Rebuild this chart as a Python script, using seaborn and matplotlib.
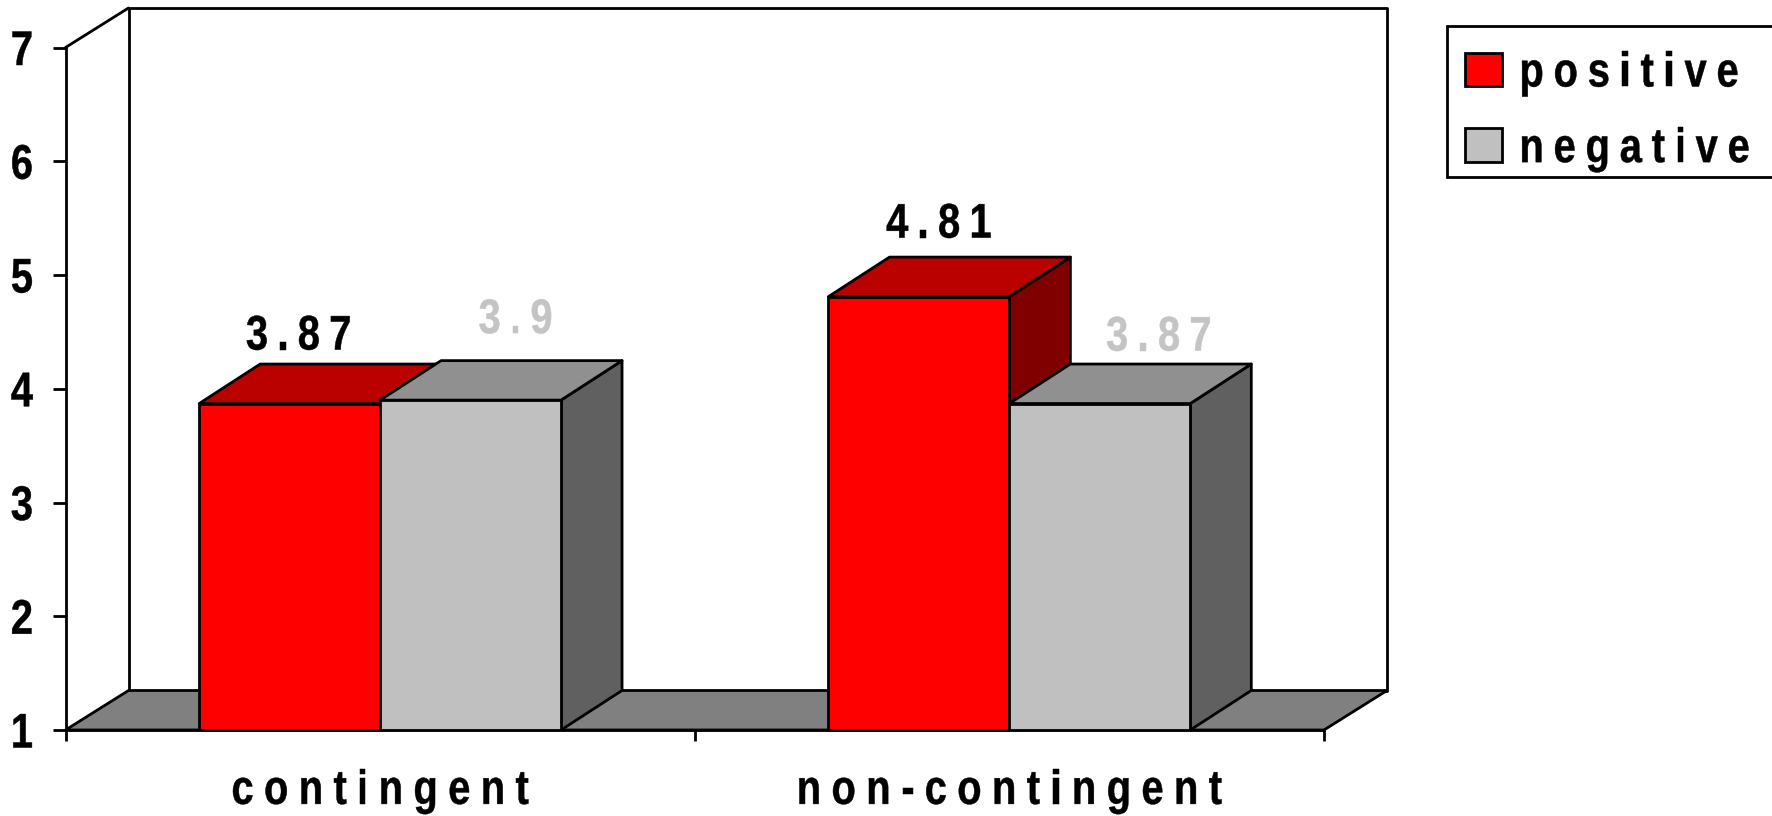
import matplotlib
matplotlib.use("Agg")
import matplotlib.colors as mcolors
import matplotlib.pyplot as plt
import matplotlib.transforms as mtransforms
from matplotlib import font_manager
from matplotlib.ft2font import LoadFlags
from matplotlib.patches import Polygon
from matplotlib.path import Path
from matplotlib.text import Text
from matplotlib.textpath import TextPath
from matplotlib.ticker import FixedLocator
import pandas as pd
import seaborn as sns

# Mean scores per condition and feedback valence
conditions = ["contingent", "non-contingent"]
valences = ["positive", "negative"]
positive_scores = [3.87, 4.81]
negative_scores = [3.9, 3.87]
y_ticks = [1, 2, 3, 4, 5, 6, 7]

FIG_W, FIG_H = 1772, 816
AX_LEFT, AX_RIGHT, AX_TOP, AX_BOTTOM = 65.5, 1324.0, 47.5, 730.0
WALL_DX, WALL_DY = 63.0, 39.5   # depth of the floor and back wall, in pixels
BAR_DX, BAR_DY = 61.0, 39.5     # depth of the extruded bars, in pixels
LW = 2.0
FONT_SIZE = 35
CONDENSE = 0.82                 # horizontal glyph scale, for a narrow bold face
STROKE = 0.35

FRONT = {"positive": "#FF0000", "negative": "#C0C0C0"}
TOP = {"positive": "#BB0000", "negative": "#909090"}
SIDE = {"positive": "#800000", "negative": "#606060"}
FLOOR = "#808080"
LABEL_COLORS = ["black", "#C4C4C4"]

# Pixel nudges of the value labels relative to each bar's top centre
LABEL_NUDGES = [[(9, 54), (45, 67)], [(20, 59), (59, 53)]]


class TrackedText(Text):
    """Condensed text drawn glyph by glyph with extra letter spacing, in pixels."""

    tracking = 9.3

    def _advances(self):
        fp = self.get_fontproperties()
        font = font_manager.get_font(font_manager.findfont(fp))
        px = fp.get_size_in_points() * self.get_figure(root=True).dpi / 72
        font.set_size(px, 72)
        out = []
        for ch in self.get_text():
            glyph = font.load_char(ord(ch), flags=LoadFlags.NO_HINTING)
            out.append(glyph.linearHoriAdvance / 65536 * CONDENSE)
        return out, px

    def _total_width(self):
        adv, _ = self._advances()
        return sum(adv) + self.tracking * max(len(adv) - 1, 0)

    def _shift(self):
        return {"left": 0.0, "center": 0.5, "right": 1.0}[self.get_ha()]

    def _get_layout(self, renderer):
        bbox, info, descent = super()._get_layout(renderer)
        width = self._total_width()
        wider = mtransforms.Bbox.from_bounds(
            bbox.x0 + self._shift() * (bbox.width - width), bbox.y0, width, bbox.height)
        return wider, info, descent

    def draw(self, renderer):
        if renderer is not None:
            self._renderer = renderer
        if not self.get_visible() or not self.get_text():
            return
        _, info, _ = super()._get_layout(renderer)
        _, (natural, _), x_off, y_off = info[0]
        posx, posy = self.get_transform().transform(self.get_unitless_position())
        x = posx + x_off + self._shift() * (natural - self._total_width())
        y = posy + y_off
        gc = renderer.new_gc()
        gc.set_foreground(self.get_color())
        gc.set_linewidth(STROKE)
        color = mcolors.to_rgb(self.get_color())
        adv, px = self._advances()
        fp = self.get_fontproperties()
        for ch, step in zip(self.get_text(), adv):
            path = TextPath((0, 0), ch, size=px, prop=fp)
            place = mtransforms.Affine2D().scale(CONDENSE, 1).translate(x, y)
            renderer.draw_path(gc, path, place, color)
            x += step + self.tracking
        gc.restore()


def legend_frame(pad_top, trim_bottom, pad_right):
    """Box style that reshapes the legend frame around its contents."""
    def transmute(x0, y0, width, height, mutation_size):
        y_low, y_high = y0 + trim_bottom, y0 + height + pad_top
        x_high = x0 + width + pad_right
        return Path([(x0, y_low), (x_high, y_low), (x_high, y_high),
                     (x0, y_high), (x0, y_low)], closed=True)
    return transmute


sns.set_theme(style="white")
plt.rcParams["font.family"] = ["Liberation Sans", "DejaVu Sans"]
plt.rcParams["font.weight"] = "bold"
plt.rcParams["font.size"] = FONT_SIZE
plt.rcParams["text.color"] = "black"
plt.rcParams["axes.linewidth"] = LW
plt.rcParams["axes.edgecolor"] = "black"

df = pd.DataFrame({
    "condition": conditions * 2,
    "valence": [valences[0]] * len(conditions) + [valences[1]] * len(conditions),
    "score": positive_scores + negative_scores,
})

fig = plt.figure(figsize=(FIG_W / 100, FIG_H / 100), dpi=100)
ax = fig.add_axes([AX_LEFT / FIG_W, 1 - AX_BOTTOM / FIG_H,
                   (AX_RIGHT - AX_LEFT) / FIG_W, (AX_BOTTOM - AX_TOP) / FIG_H])

sns.barplot(data=df, x="condition", y="score", hue="valence", order=conditions,
            hue_order=valences, palette=FRONT, width=0.575, gap=0, saturation=1,
            edgecolor="black", linewidth=LW, ax=ax)

ax.set_xlim(-0.5, 1.5)
ax.set_ylim(y_ticks[0], y_ticks[-1])
ax.set_xlabel("")
ax.set_ylabel("")
sns.despine(ax=ax, top=True, right=True)

x_per_px = 2.0 / (AX_RIGHT - AX_LEFT)
y_per_px = (y_ticks[-1] - y_ticks[0]) / (AX_BOTTOM - AX_TOP)
wall_dx, wall_dy = WALL_DX * x_per_px, WALL_DY * y_per_px
bar_dx, bar_dy = BAR_DX * x_per_px, BAR_DY * y_per_px


def face(points, color, z):
    ax.add_patch(Polygon(points, closed=True, facecolor=color, edgecolor="black",
                         linewidth=LW, joinstyle="round", clip_on=False, zorder=z))


# Back wall and floor of the box
xmin, xmax = ax.get_xlim()
ymin, ymax = ax.get_ylim()
face([(xmin + wall_dx, ymin + wall_dy), (xmin + wall_dx, ymax + wall_dy),
      (xmax + wall_dx, ymax + wall_dy), (xmax + wall_dx, ymin + wall_dy)], "white", 0.2)
face([(xmin, ymin), (xmax, ymin), (xmax + wall_dx, ymin + wall_dy),
      (xmin + wall_dx, ymin + wall_dy)], FLOOR, 0.3)
ax.plot([xmin, xmin + wall_dx], [ymax, ymax + wall_dy], color="black", lw=LW,
        clip_on=False, zorder=0.3, solid_capstyle="round")
ax.patch.set_alpha(0)

# Extrude every bar into a box and write its value above it
for s, (valence, container) in enumerate(zip(valences, ax.containers)):
    z = 0.5 + s * 0.3
    for c, bar in enumerate(container.patches):
        x0, x1 = bar.get_x(), bar.get_x() + bar.get_width()
        top = bar.get_height()
        face([(x1, ymin), (x1, top), (x1 + bar_dx, top + bar_dy),
              (x1 + bar_dx, ymin + bar_dy)], SIDE[valence], z)
        face([(x0, top), (x1, top), (x1 + bar_dx, top + bar_dy),
              (x0 + bar_dx, top + bar_dy)], TOP[valence], z + 0.05)
        bar.set_zorder(z + 0.1)
        dx, dy = LABEL_NUDGES[c][s]
        where = mtransforms.offset_copy(ax.transData, fig=fig, x=dx, y=dy, units="dots")
        ax.add_artist(TrackedText((x0 + x1) / 2, top, f"{top:g}", transform=where,
                                  ha="center", va="baseline", color=LABEL_COLORS[s],
                                  fontsize=FONT_SIZE, fontweight="bold", clip_on=False,
                                  zorder=3))

# Axes ticks: outward marks on the y axis and at the category boundaries
ax.set_yticks(y_ticks)
ax.tick_params(axis="y", which="major", left=True, length=9.4, width=LW, pad=14,
               labelsize=FONT_SIZE, color="black", labelcolor="black")
ax.xaxis.set_minor_locator(FixedLocator([-0.5, 0.5, 1.5]))
ax.tick_params(axis="x", which="minor", bottom=True, length=8, width=LW, color="black")
ax.tick_params(axis="x", which="major", bottom=False, length=8, pad=20,
               labelsize=FONT_SIZE, labelcolor="black")
for label in ax.get_xticklabels():
    label.__class__ = TrackedText
    label.tracking = 10.4
for label in ax.get_yticklabels():
    label.__class__ = TrackedText
    label.tracking = 0.0

handles, labels = ax.get_legend_handles_labels()
legend = ax.legend(handles, labels, loc="upper left",
                   bbox_to_anchor=(1446.5 / FIG_W, 1 - 33 / FIG_H),
                   bbox_transform=fig.transFigure, borderaxespad=0,
                   frameon=True, fancybox=False, framealpha=1, edgecolor="black",
                   borderpad=0.38, handlelength=0.77, handleheight=0.69,
                   handletextpad=0.35, labelspacing=0.63,
                   prop={"size": FONT_SIZE, "weight": "bold"})
legend.get_frame().set_linewidth(LW)
legend.get_frame().set_boxstyle(legend_frame(7.0, 14.0, 40.0))
for text in legend.get_texts():
    text.__class__ = TrackedText
    text.tracking = 9.8

fig.savefig("out.png", dpi=100)
